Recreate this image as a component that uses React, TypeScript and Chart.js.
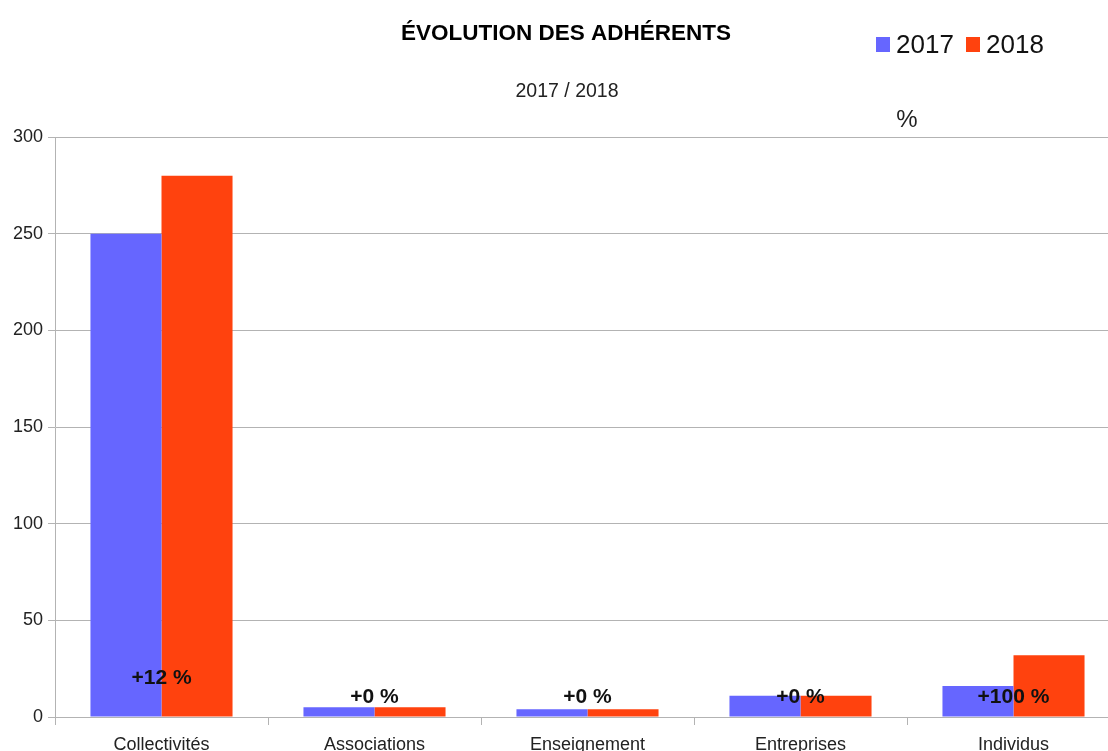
import { useEffect, useRef } from "react";
import { Chart, registerables } from "chart.js";

Chart.register(...registerables);

const categories = ["Collectivités", "Associations", "Enseignement", "Entreprises", "Individus"];
const values2017 = [250, 5, 4, 11, 16];
const values2018 = [280, 5, 4, 11, 32];
const changeLabels = ["+12 %", "+0 %", "+0 %", "+0 %", "+100 %"];
const changeLabelLevels = [20, 10, 10, 10, 10];
const yTicks = [0, 50, 100, 150, 200, 250, 300];
const seriesNames = ["2017", "2018"];
const seriesColors = ["#6666ff", "#ff420e"];
const titleText = "ÉVOLUTION DES ADHÉRENTS";
const subtitleText = "2017 / 2018";
const unitText = "%";

const FONT = "'Liberation Sans', Arial, sans-serif";
const CANVAS_W = 1132;
const CANVAS_H = 775;

const decorPlugin = {
  id: "decor",
  afterDraw(chart: any) {
    const ctx = chart.ctx as CanvasRenderingContext2D;
    const x = chart.scales.x;
    const y = chart.scales.y;
    ctx.save();
    // title
    ctx.fillStyle = "#000";
    ctx.textAlign = "center";
    ctx.textBaseline = "alphabetic";
    ctx.font = `bold 22.5px ${FONT}`;
    ctx.fillText(titleText, 566, 40);
    // subtitle
    ctx.font = `19.5px ${FONT}`;
    ctx.fillStyle = "#222";
    ctx.fillText(subtitleText, 567, 97);
    // unit
    ctx.font = `24px ${FONT}`;
    ctx.fillStyle = "#222";
    ctx.fillText(unitText, 907, 127);
    // legend
    ctx.textAlign = "left";
    ctx.font = `26px ${FONT}`;
    const legendX = [876, 966];
    seriesNames.forEach((name, i) => {
      ctx.fillStyle = seriesColors[i];
      ctx.fillRect(legendX[i], 37, 14, 15);
      ctx.fillStyle = "#111";
      ctx.fillText(name, legendX[i] + 20, 53);
    });
    // change labels
    ctx.textAlign = "center";
    ctx.textBaseline = "middle";
    ctx.font = `bold 21px ${FONT}`;
    ctx.fillStyle = "#111";
    changeLabels.forEach((lab, i) => {
      ctx.fillText(lab, x.getPixelForValue(i), y.getPixelForValue(changeLabelLevels[i]));
    });
    ctx.restore();
  },
};

export default function App() {
  const ref = useRef<HTMLCanvasElement | null>(null);
  useEffect(() => {
    if (!ref.current) return;
    const chart = new Chart(ref.current, {
      type: "bar",
      data: {
        labels: categories,
        datasets: [
          { label: seriesNames[0], data: values2017, backgroundColor: seriesColors[0], borderWidth: 0 },
          { label: seriesNames[1], data: values2018, backgroundColor: seriesColors[1], borderWidth: 0 },
        ],
      },
      options: {
        responsive: false,
        animation: false,
        devicePixelRatio: 1,
        layout: { padding: { top: 137, right: 12, left: 0, bottom: 0 } },
        datasets: { bar: { categoryPercentage: 0.667, barPercentage: 1 } },
        plugins: {
          legend: { display: false },
          title: { display: false },
          tooltip: { enabled: false },
        },
        scales: {
          x: {
            offset: true,
            grid: { display: true, drawOnChartArea: false, drawTicks: true, tickLength: 8, color: "#b3b3b3", offset: true },
            border: { display: true, color: "#b3b3b3" },
            ticks: { color: "#222", font: { family: FONT, size: 18 }, padding: 9, maxRotation: 0 },
            afterFit: (s: any) => { s.height = CANVAS_H - 717; },
          },
          y: {
            min: 0,
            max: 300,
            grid: { color: "#b3b3b3", tickLength: 7 },
            border: { display: true, color: "#b3b3b3" },
            ticks: { color: "#222", font: { family: FONT, size: 18 }, padding: 5 },
            afterBuildTicks: (s: any) => { s.ticks = yTicks.map((v) => ({ value: v })); },
            afterFit: (s: any) => { s.width = 55; },
          },
        },
      },
      plugins: [decorPlugin],
    });
    return () => chart.destroy();
  }, []);
  return (
    <div style={{ position: "fixed", left: 0, top: 0, width: 1108, height: 751, overflow: "hidden", background: "#fff" }}>
      <canvas ref={ref} width={CANVAS_W} height={CANVAS_H} style={{ width: CANVAS_W, height: CANVAS_H, display: "block" }} />
    </div>
  );
}
